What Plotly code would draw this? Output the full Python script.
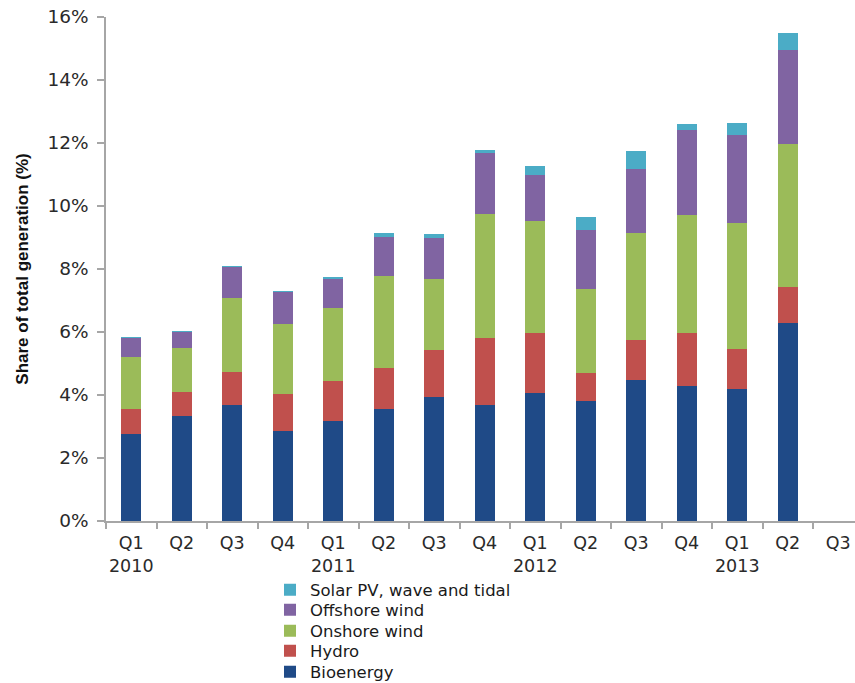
import plotly.graph_objects as go

categories = ["Q1<br>2010", "Q2", "Q3", "Q4",
              "Q1<br>2011", "Q2", "Q3", "Q4",
              "Q1<br>2012", "Q2", "Q3", "Q4",
              "Q1<br>2013", "Q2", "Q3"]

bioenergy = [2.76, 3.34, 3.68, 2.86, 3.17, 3.55, 3.95, 3.68, 4.05, 3.82, 4.48, 4.29, 4.19, 6.28, None]
hydro = [0.79, 0.76, 1.06, 1.16, 1.27, 1.32, 1.48, 2.14, 1.91, 0.87, 1.27, 1.69, 1.26, 1.16, None]
onshore = [1.65, 1.38, 2.33, 2.22, 2.31, 2.91, 2.24, 3.92, 3.56, 2.67, 3.38, 3.73, 4.00, 4.53, None]
offshore = [0.63, 0.53, 1.00, 1.04, 0.95, 1.25, 1.30, 1.93, 1.46, 1.88, 2.04, 2.70, 2.80, 2.98, None]
solar = [0.01, 0.01, 0.01, 0.01, 0.02, 0.10, 0.14, 0.11, 0.29, 0.42, 0.58, 0.18, 0.40, 0.53, None]

series_names = ["Bioenergy", "Hydro", "Onshore wind", "Offshore wind", "Solar PV, wave and tidal"]
series_values = [bioenergy, hydro, onshore, offshore, solar]
colors = ["#1F4A87", "#C0504D", "#9BBB59", "#8064A2", "#4BACC6"]
legend_ids = ["legend5", "legend4", "legend3", "legend2", "legend"]

x_idx = list(range(len(categories)))

fig = go.Figure()
for name, vals, col, lg in zip(series_names, series_values, colors, legend_ids):
    fig.add_trace(go.Bar(x=x_idx, y=vals, name=name, marker=dict(color=col, line=dict(width=0)),
                         width=0.4, legend=lg))

W, H = 855, 683
ml, mr, mt, mb = 106, 0, 17, 162
ph = H - mt - mb
pw = W - ml - mr

def py(px):
    return (H - mb - px) / ph

legend_font = dict(family="DejaVu Sans", size=16.5, color="#1a1a1a")
leg_x = (270 - ml) / pw
leg_centers = {"legend": 590, "legend2": 610, "legend3": 631, "legend4": 651, "legend5": 672}
legend_layout = {}
for lid, cy in leg_centers.items():
    legend_layout[lid] = dict(x=leg_x, xanchor="left", y=py(cy), yanchor="middle",
                              font=legend_font, bgcolor="rgba(0,0,0,0)", borderwidth=0,
                              itemwidth=30)

fig.update_layout(
    width=W, height=H,
    margin=dict(l=ml, r=mr, t=mt, b=mb, autoexpand=False),
    barmode="stack",
    plot_bgcolor="white", paper_bgcolor="white",
    showlegend=True,
    **legend_layout,
)

fig.update_yaxes(
    range=[0, 16], dtick=2, ticksuffix="%",
    showline=True, linecolor="#A6A6A6", linewidth=1.5,
    ticks="outside", ticklen=7, tickcolor="#A6A6A6", tickwidth=1.5,
    showgrid=False, zeroline=False,
    tickfont=dict(family="DejaVu Sans", size=18.5, color="#2a2a2a"),
    ticklabelstandoff=5,
    title=dict(text="Share of total generation (%)",
               font=dict(family="Liberation Sans", size=17, color="#111111", weight="bold"),
               standoff=14),
    automargin=False,
)

fig.update_xaxes(
    range=[-0.5, -0.5 + pw / 50.5],
    tickmode="array", tickvals=x_idx, ticktext=categories,
    showline=True, linecolor="#A6A6A6", linewidth=1.5,
    ticks="",
    minor=dict(ticks="outside", tickmode="linear", tick0=0.5, dtick=1, ticklen=6,
               tickcolor="#A6A6A6", tickwidth=1.5, showgrid=False),
    showgrid=False, zeroline=False,
    tickfont=dict(family="DejaVu Sans", size=17.5, color="#2a2a2a"),
    ticklabelstandoff=5,
    automargin=False,
)

fig.write_html("out.html")
